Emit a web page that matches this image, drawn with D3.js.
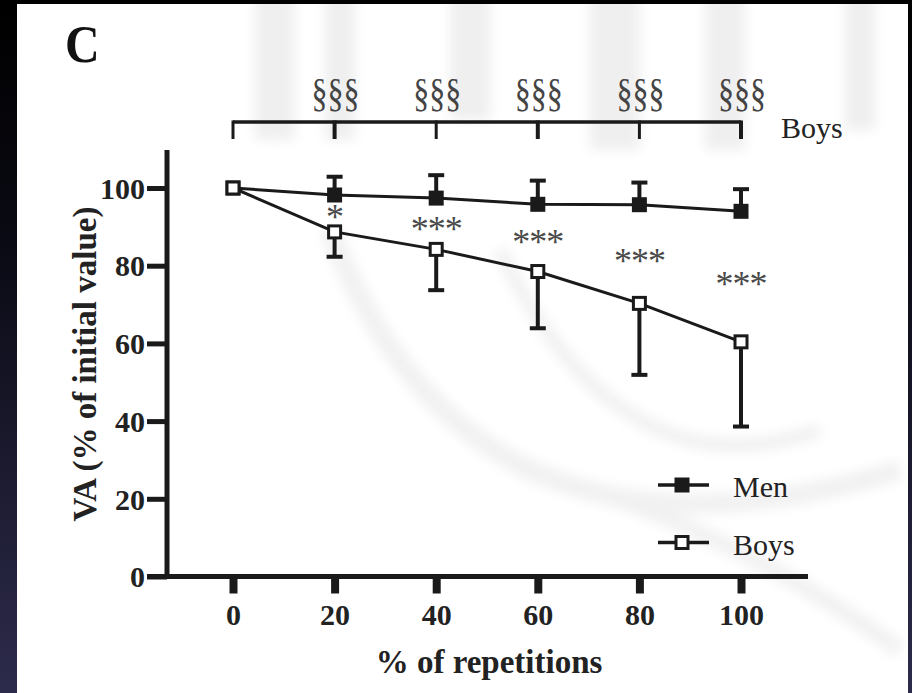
<!DOCTYPE html>
<html><head><meta charset="utf-8">
<script src="https://cdn.jsdelivr.net/npm/d3@7"></script>
<style>html,body{margin:0;padding:0;background:#fff;}svg{display:block;}</style>
</head><body>
<script>
// ---- data ----
const reps = [0, 20, 40, 60, 80, 100];
const menMean = [100, 98.2, 97.4, 95.8, 95.7, 94.0];
const menSD   = [0, 4.7, 5.9, 6.1, 5.7, 5.7];        // upper bars
const boysMean = [100, 88.7, 84.2, 78.5, 70.3, 60.4];
const boysSD   = [0, 6.4, 10.5, 14.6, 18.4, 21.8];    // lower bars
const boysStars = ["", "*", "***", "***", "***", "***"];
const sectionMarks = ["", "§§§", "§§§", "§§§", "§§§", "§§§"];
const xTicks = [0, 20, 40, 60, 80, 100];
const yTicks = [0, 20, 40, 60, 80, 100];
const seriesNames = ["Men", "Boys"];

const W = 912, H = 693;
const svg = d3.select("body").append("svg").attr("width", W).attr("height", H);
const serif = "'Liberation Serif','Times New Roman',serif";

// frame / dark borders
const defs = svg.append("defs");
const grad = defs.append("linearGradient").attr("id","edge").attr("x1",0).attr("y1",0).attr("x2",0).attr("y2",1);
grad.append("stop").attr("offset","0").attr("stop-color","#000");
grad.append("stop").attr("offset","0.35").attr("stop-color","#0a0a14");
grad.append("stop").attr("offset","1").attr("stop-color","#2d2b4b");
defs.append("filter").attr("id","blur").append("feGaussianBlur").attr("stdDeviation",6);
defs.append("clipPath").attr("id","panel").append("rect").attr("x",17).attr("y",4).attr("width",891).attr("height",H-4);
svg.append("rect").attr("width",W).attr("height",H).attr("fill","url(#edge)");
svg.append("rect").attr("x",17).attr("y",4).attr("width",891).attr("height",H-4).attr("fill","#fff");

// faint watermark
const wm = svg.append("g").attr("clip-path","url(#panel)").append("g")
  .attr("fill","none").attr("stroke","#f1f1f1").attr("filter","url(#blur)");
[[255,40,140],[325,30,140],[450,40,120],[590,50,150],[705,40,150],[845,30,130]].forEach(r=>{
  wm.append("rect").attr("x",r[0]).attr("y",-20).attr("width",r[1]).attr("height",r[2]+20).attr("stroke","none").attr("fill","#efefef");
});
wm.append("path").attr("d","M 330 230 Q 470 600 900 470").attr("stroke-width",20);
wm.append("path").attr("d","M 500 250 Q 620 500 820 430").attr("stroke-width",14);
wm.append("path").attr("d","M 900 650 Q 720 520 520 470").attr("stroke-width",16);

// scales
const x = d3.scaleLinear().domain([0,100]).range([233,741]);
const y = d3.scaleLinear().domain([0,100]).range([576.5,188]);

const ink = "#1a1a1a";

// y axis
const yAxisX = 167;
svg.append("line").attr("x1",yAxisX).attr("x2",yAxisX).attr("y1",150).attr("y2",y(0)+2.5)
  .attr("stroke",ink).attr("stroke-width",5);
const yAx = svg.append("g").attr("transform",`translate(${yAxisX},0)`)
  .call(d3.axisLeft(y).tickValues(yTicks).tickSize(20).tickPadding(2).tickFormat(d3.format("d")));
yAx.select(".domain").remove();
yAx.selectAll(".tick line").attr("stroke",ink).attr("stroke-width",5);
yAx.selectAll(".tick text").attr("font-family",serif).attr("font-weight","bold").attr("font-size",30).attr("fill","#222").attr("dy","0.34em");

// x axis
const xAxisY = y(0);
svg.append("line").attr("x1",147).attr("x2",808).attr("y1",xAxisY).attr("y2",xAxisY)
  .attr("stroke",ink).attr("stroke-width",5);
const xAx = svg.append("g").attr("transform",`translate(0,${xAxisY})`)
  .call(d3.axisBottom(x).tickValues(xTicks).tickSize(17).tickPadding(10).tickFormat(d3.format("d")));
xAx.select(".domain").remove();
xAx.selectAll(".tick line").attr("stroke",ink).attr("stroke-width",8);
xAx.selectAll(".tick text").attr("font-family",serif).attr("font-weight","bold").attr("font-size",30).attr("fill","#222");

// axis titles
svg.append("text").attr("x",489).attr("y",673).attr("text-anchor","middle")
  .attr("font-family",serif).attr("font-weight","bold").attr("font-size",33).attr("fill","#222")
  .text("% of repetitions");
svg.append("text").attr("transform","translate(96,364) rotate(-90)").attr("text-anchor","middle")
  .attr("font-family",serif).attr("font-weight","bold").attr("font-size",33).attr("fill","#222")
  .text("VA (% of initial value)");

// panel letter
svg.append("text").attr("transform","translate(65,62) scale(1,1.12)").attr("font-family",serif).attr("font-weight","bold")
  .attr("font-size",48).attr("fill","#111").text("C");

// significance bracket
const brY = 122, brB = 139;
svg.append("line").attr("x1",x(0)).attr("x2",x(100)).attr("y1",brY).attr("y2",brY).attr("stroke",ink).attr("stroke-width",3.5);
reps.forEach((r,i)=>{
  svg.append("line").attr("x1",x(r)).attr("x2",x(r)).attr("y1",brY-1.5).attr("y2",brB)
    .attr("stroke",ink).attr("stroke-width", i%2===1 ? 4 : 3);
  if (sectionMarks[i]) svg.append("text").attr("transform",`translate(${x(r)+1},106) scale(0.8,1)`).attr("text-anchor","middle")
    .attr("font-family",serif).attr("font-size",40).attr("fill","#444")
    .text(sectionMarks[i]);
});
svg.append("text").attr("x",781).attr("y",138).attr("font-family",serif).attr("font-size",30).attr("fill","#222").text("Boys");

// lines
const line = d3.line().x((d,i)=>x(reps[i])).y(d=>y(d));
svg.append("path").attr("d",line(boysMean)).attr("fill","none").attr("stroke",ink).attr("stroke-width",3);
svg.append("path").attr("d",line(menMean)).attr("fill","none").attr("stroke",ink).attr("stroke-width",3);

// error bars
const capW = 16;
reps.forEach((r,i)=>{
  if (menSD[i] > 0) {
    const top = y(menMean[i]+menSD[i]);
    svg.append("line").attr("x1",x(r)).attr("x2",x(r)).attr("y1",y(menMean[i])).attr("y2",top).attr("stroke",ink).attr("stroke-width",4);
    svg.append("line").attr("x1",x(r)-capW/2).attr("x2",x(r)+capW/2).attr("y1",top).attr("y2",top).attr("stroke",ink).attr("stroke-width",4);
  }
  if (boysSD[i] > 0) {
    const bot = y(boysMean[i]-boysSD[i]);
    svg.append("line").attr("x1",x(r)).attr("x2",x(r)).attr("y1",y(boysMean[i])).attr("y2",bot).attr("stroke",ink).attr("stroke-width",4);
    svg.append("line").attr("x1",x(r)-capW/2).attr("x2",x(r)+capW/2).attr("y1",bot).attr("y2",bot).attr("stroke",ink).attr("stroke-width",4);
  }
});

// markers
const ms = 15;
reps.forEach((r,i)=>{
  svg.append("rect").attr("x",x(r)-ms/2).attr("y",y(menMean[i])-ms/2).attr("width",ms).attr("height",ms).attr("fill",ink);
});
reps.forEach((r,i)=>{
  svg.append("rect").attr("x",x(r)-ms/2+1.5).attr("y",y(boysMean[i])-ms/2+1.5).attr("width",ms-3).attr("height",ms-3)
    .attr("fill","#fff").attr("stroke",ink).attr("stroke-width",3);
});

// stars
const starY = [0, 213, 225, 238, 257, 280];
reps.forEach((r,i)=>{
  if (boysStars[i]) svg.append("text").attr("x",x(r)).attr("y",starY[i]+16).attr("text-anchor","middle")
    .attr("font-family",serif).attr("font-size",36).attr("fill","#4a4a4a").attr("letter-spacing",-1).text(boysStars[i]);
});

// legend
const lg = [{n:seriesNames[0], filled:true, yy:485},{n:seriesNames[1], filled:false, yy:542.5}];
lg.forEach(d=>{
  svg.append("line").attr("x1",658).attr("x2",709).attr("y1",d.yy).attr("y2",d.yy).attr("stroke",ink).attr("stroke-width",3.5);
  if (d.filled) svg.append("rect").attr("x",682-ms/2).attr("y",d.yy-ms/2).attr("width",ms).attr("height",ms).attr("fill",ink);
  else svg.append("rect").attr("x",682-ms/2+1.5).attr("y",d.yy-ms/2+1.5).attr("width",ms-3).attr("height",ms-3).attr("fill","#fff").attr("stroke",ink).attr("stroke-width",3);
  svg.append("text").attr("x",733).attr("y",d.yy+12).attr("font-family",serif).attr("font-size",30).attr("fill","#222").text(d.n);
});
</script>
</body></html>
